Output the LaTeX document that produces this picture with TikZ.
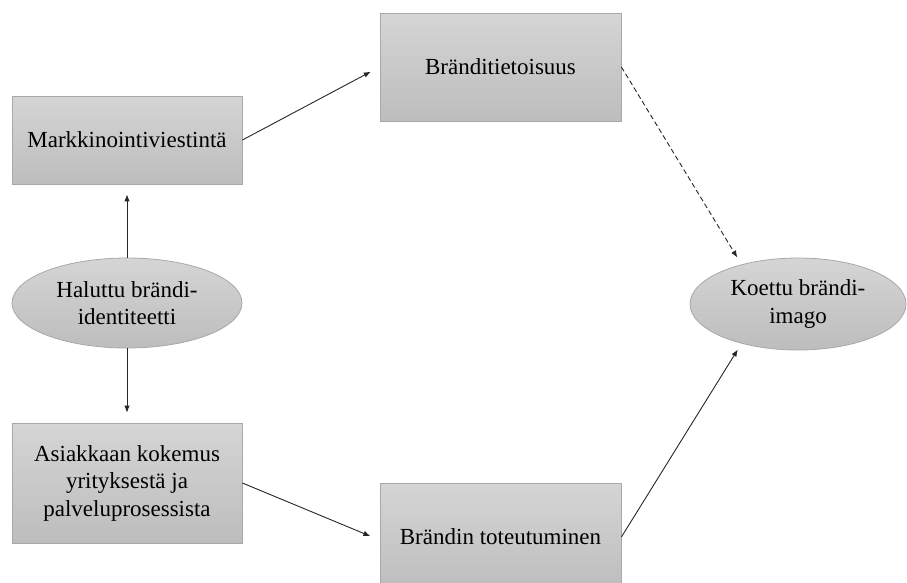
\documentclass[tikz,border=0pt]{standalone}
\usepackage{fontspec}
\setmainfont{Liberation Serif}
\usetikzlibrary{shapes.geometric,arrows.meta}
\definecolor{boxtop}{HTML}{D5D5D5}
\definecolor{boxbot}{HTML}{BDBDBD}
\definecolor{boxline}{HTML}{A8A8A8}
\begin{document}
\begin{tikzpicture}[x=1pt,y=-1pt,
  every node/.style={inner sep=0pt, align=center,
    font=\fontsize{23}{27.5}\selectfont},
  grad/.style={draw=boxline, line width=0.8pt, top color=boxtop, bottom color=boxbot},
  rbox/.style={grad, rectangle},
  oval/.style={grad, ellipse},
  link/.style={draw=black!85, line width=0.9pt, -{Latex[length=7pt,width=5.5pt]}},
  dlink/.style={link, dash pattern=on 5pt off 3pt}
]
\useasboundingbox (0,0) rectangle (907,582);
% boxes
\node[rbox, minimum width=230pt, minimum height=88pt]  (mark) at (127,140) {Markkinointiviestintä};
\node[rbox, minimum width=241pt, minimum height=108pt] (tiet) at (500.5,67) {Bränditietoisuus};
\node[rbox, minimum width=230pt, minimum height=120pt] (asia) at (127,483) {Asiakkaan kokemus\\yrityksestä ja\\palveluprosessista};
\node[rbox, minimum width=241pt, minimum height=108pt] (tote) at (500.5,537) {Brändin toteutuminen};
% ellipses
\node[oval, minimum width=230pt, minimum height=90pt] (halu) at (127,303) {Haluttu brändi-\\identiteetti};
\node[oval, minimum width=216pt, minimum height=92pt] (koet) at (798,304) {Koettu brändi-\\imago};
% connectors
\draw[link, shorten >=10pt] (halu.north) -- (mark.south);
\draw[link, shorten >=10pt] (halu.south) -- (asia.north);
\draw[link, shorten >=10pt] (mark.east) -- (tiet.west);
\draw[link, shorten >=10pt] (asia.east) -- ([yshift=-3pt]tote.west);
\draw[dlink, shorten >=8pt] (tiet.east) -- (koet.145);
\draw[link, shorten >=7pt] (tote.east) -- (koet.215);
\end{tikzpicture}
\end{document}
